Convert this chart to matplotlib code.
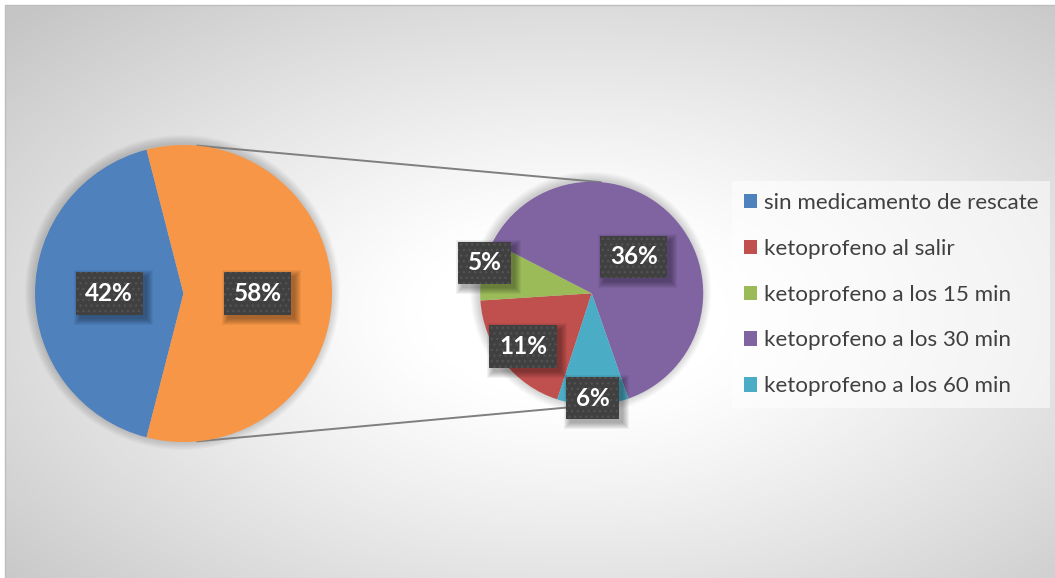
import numpy as np
import matplotlib
matplotlib.use("Agg")
import matplotlib.pyplot as plt
from matplotlib.patches import Rectangle, Circle, Patch

# ---- data -------------------------------------------------------------
categories = [
    "sin medicamento de rescate",
    "ketoprofeno al salir",
    "ketoprofeno a los 15 min",
    "ketoprofeno a los 30 min",
    "ketoprofeno a los 60 min",
]
percentages = [42, 11, 5, 36, 6]
series_colors = ["#4F81BD", "#C0504D", "#9BBB59", "#8064A2", "#4BACC6"]
other_color = "#F79646"

# ---- canvas (1 data unit = 1 pixel, y pointing up) --------------------
W, H = 1055, 578
fig = plt.figure(figsize=(W / 100, H / 100), dpi=100)
fig.patch.set_facecolor("white")
ax = fig.add_axes([0, 0, 1, 1])


def py(y_px):
    return H - y_px


# radial background of the chart area
x0, y0 = 5, 5
gx = np.arange(x0, W) + 0.5
gy = np.arange(y0, H) + 0.5
GX, GY = np.meshgrid(gx, gy)
nx = (GX - 575) / 545
ny = (GY - 315) / 300
r = np.hypot(nx, ny)
t = np.clip((r - 0.28) / (1.42 - 0.28), 0, 1) ** 1.15
val = 1.0 - 0.225 * t
ax.imshow(np.dstack([val, val, val]), extent=[x0, W, py(H), py(y0)],
          origin="upper", zorder=0, interpolation="bilinear")
ax.add_patch(Rectangle((x0, py(H) - 2), W - x0 + 2, H - y0 + 2, fill=False,
                       edgecolor="#BEBEBE", linewidth=1.0, zorder=1))

# ---- geometry ---------------------------------------------------------
c1 = (183.5, py(293.5))
R1 = 148.5
c2 = (591.7, py(293.3))
R2 = 111.5

main_vals = [percentages[0], sum(percentages[1:])]
sub_vals = percentages[1:]

# soft shadows under both pies
for (cx, cy), rad in ((c1, R1), (c2, R2)):
    for k in range(1, 10):
        ax.add_patch(Circle((cx - 1, cy + 1), rad + k, facecolor="black",
                            alpha=0.02, linewidth=0, zorder=2))

# primary pie: the grouped wedge is centred on the right-hand side
main_start = 180 * main_vals[1] / sum(main_vals)
w_main, _ = ax.pie(main_vals, colors=[series_colors[0], other_color],
                   startangle=main_start, counterclock=True,
                   center=c1, radius=R1, wedgeprops=dict(linewidth=0))

# secondary pie with the breakdown of the grouped wedge
w_sub, _ = ax.pie(sub_vals, colors=series_colors[1:], startangle=252,
                  counterclock=False, center=c2, radius=R2,
                  wedgeprops=dict(linewidth=0))

for w in list(w_main) + list(w_sub):
    w.set_zorder(4)

# connector lines between the two pies
conn = 85
for s in (1, -1):
    a = np.deg2rad(s * conn)
    xa = c1[0] + R1 * np.cos(a)
    ya = c1[1] + R1 * np.sin(a)
    xb = c2[0] + R2 * np.cos(a)
    yb = c2[1] + R2 * np.sin(a)
    ax.plot([xa, xb], [ya, yb], color="#7F7F7F", linewidth=1.4,
            solid_capstyle="butt", zorder=3)

ax.set_xlim(0, W)
ax.set_ylim(0, H)
ax.set_aspect("auto")
ax.axis("off")

# ---- data labels ------------------------------------------------------
label_pos_main = [0.5, 0.5]
label_pos_sub = [0.78, 1.0, 0.5, 0.94]
label_nudge_sub = [0.0, -4.0, 0.0, 0.0]

label_texts = []


def add_label(wedge, value, rfrac, nudge=0.0):
    mid = np.deg2rad((wedge.theta1 + wedge.theta2) / 2 + nudge)
    cx, cy = wedge.center
    rad = wedge.r * rfrac
    tx = ax.text(cx + rad * np.cos(mid), cy + rad * np.sin(mid), f"{value}%",
                 ha="center", va="center", color="white", fontsize=17.5,
                 family="Lato", weight="bold", zorder=8,
                 bbox=dict(boxstyle="square,pad=0.4", facecolor="#404040",
                           edgecolor="#525252", linewidth=0, hatch="..."))
    label_texts.append(tx)


for w, v, rf in zip(w_main, main_vals, label_pos_main):
    add_label(w, v, rf)
for w, v, rf, nd in zip(w_sub, sub_vals, label_pos_sub, label_nudge_sub):
    add_label(w, v, rf, nd)

# drop shadows behind the label boxes
fig.canvas.draw()
inv = ax.transData.inverted()
for tx in label_texts:
    bb = tx.get_bbox_patch().get_window_extent()
    (bx0, by0), (bx1, by1) = inv.transform([[bb.x0, bb.y0], [bb.x1, bb.y1]])
    for k in range(7):
        ax.add_patch(Rectangle((bx0 + 4 - k, by0 - 4 - k),
                               (bx1 - bx0) + 2 * k, (by1 - by0) + 2 * k,
                               facecolor="black", alpha=0.05, linewidth=0,
                               zorder=7))

# ---- legend -----------------------------------------------------------
handles = [Patch(facecolor=c, edgecolor="none") for c in series_colors]
leg = ax.legend(handles, categories, loc="upper left",
                bbox_to_anchor=(732 / W, 1 - 181 / H),
                bbox_transform=ax.transAxes, borderaxespad=0,
                prop=dict(family="Lato", size=16.1), labelcolor="#404040",
                frameon=True, fancybox=False, facecolor="white",
                framealpha=0.55, edgecolor="none",
                handlelength=0.62, handleheight=0.6, handletextpad=0.28,
                labelspacing=1.16, borderpad=0.52)
leg.set_zorder(9)

fig.savefig("out.png", dpi=100, facecolor="white")
